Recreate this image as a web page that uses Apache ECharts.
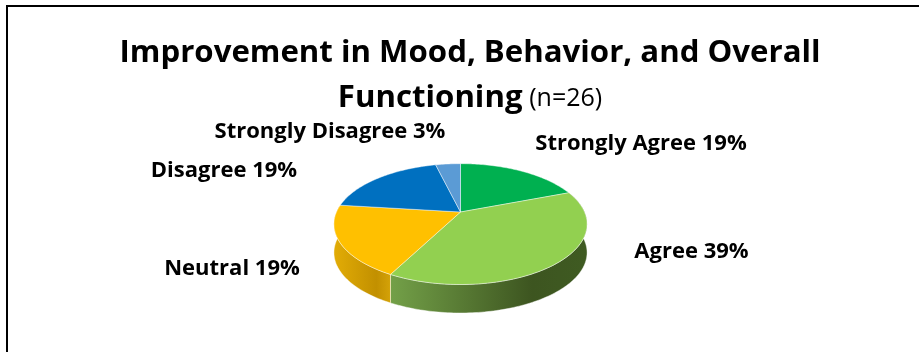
<!DOCTYPE html>
<html><head><meta charset="utf-8">
<style>html,body{margin:0;padding:0;background:#fff}#c{width:919px;height:352px}</style>
<script src="https://cdn.jsdelivr.net/npm/echarts@6/dist/echarts.min.js"></script>
</head><body><div id="c"></div>
<script>
// Data
const categories = ['Strongly Agree', 'Agree', 'Neutral', 'Disagree', 'Strongly Disagree'];
const respondents = [5, 10, 5, 5, 1];
const percentLabels = ['19%', '39%', '19%', '19%', '3%'];
const sliceColors = ['#00b050', '#92d050', '#ffc000', '#0070c0', '#5b9bd5'];

// Layout
const cx = 460.5, cy = 212, Rx = 124, Ry = 58, persp = 0.2, depth = 28.5;
const labelAnchors = [[641, 144], [691.5, 252], [232, 269], [224, 171], [330, 132]];
const total = respondents.reduce((a, b) => a + b, 0);
const project = t => {
  const u = Math.sin(t), v = -Math.cos(t), w = 1 / (1 - persp * v);
  return [cx + Rx * u * w, cy + Ry * v * w];
};
const arcPoints = (a0, a1) => {
  const n = Math.max(2, Math.ceil((a1 - a0) / 0.02)), pts = [];
  for (let i = 0; i <= n; i++) pts.push(project(a0 + (a1 - a0) * i / n));
  return pts;
};
const angles = idx => {
  let s = 0;
  for (let i = 0; i < idx; i++) s += respondents[i];
  return [s / total * 2 * Math.PI, (s + respondents[idx]) / total * 2 * Math.PI];
};
const sideFill = {
  1: ['#73a048', '#3d5520', 0.72],
  2: ['#e2ac06', '#c29000', 1]
};
function renderSide(params, api) {
  const i = params.dataIndex;
  const style = sideFill[i];
  if (!style) return null;
  const [a0, a1] = angles(i);
  const aa = Math.max(a0, Math.PI * 0.38), bb = Math.min(a1, Math.PI * 1.62);
  const top = arcPoints(aa, bb);
  const bottom = top.map(p => [p[0], p[1] + depth]).reverse();
  const pts = top.concat(bottom);
  const xs = pts.map(p => p[0]);
  const x0 = Math.min(...xs), x1 = Math.max(...xs);
  const stops = i === 1
    ? [{offset: 0, color: style[0]}, {offset: style[2], color: style[1]}, {offset: 1, color: '#3f5b22'}]
    : [{offset: 0, color: style[0]}, {offset: 0.75, color: style[1]}, {offset: 1, color: '#d4a208'}];
  return {
    type: 'polygon', shape: {points: pts},
    style: {
      fill: new echarts.graphic.LinearGradient(x0, 0, x1, 0, stops, true),
      stroke: 'rgba(255,255,255,0.55)', lineWidth: 0.8
    }
  };
}
function renderTop(params, api) {
  const i = params.dataIndex;
  const [a0, a1] = angles(i);
  return {
    type: 'polygon',
    shape: {points: [[cx, cy]].concat(arcPoints(a0, a1))},
    style: {fill: sliceColors[i], stroke: 'rgba(255,255,255,0.55)', lineWidth: 0.8}
  };
}
function renderLabel(params, api) {
  const i = params.dataIndex;
  return {
    type: 'text', x: labelAnchors[i][0], y: labelAnchors[i][1],
    style: {
      text: categories[i] + ' ' + percentLabels[i],
      font: 'bold 22px "Open Sans"', fill: '#000', align: 'center', verticalAlign: 'middle'
    }
  };
}
const rows = categories.map((c, i) => ({name: c, value: [respondents[i]]}));
const chart = echarts.init(document.getElementById('c'), null, {renderer: 'canvas'});
chart.setOption({
  animation: false,
  backgroundColor: '#fff',
  title: {
    text: '{b|Improvement in Mood, Behavior, and Overall}\n{b|Functioning} {s| }{r|(n=26)}',
    left: 465, textAlign: 'center', top: 26,
    textStyle: {
      rich: {
        b: {fontFamily: 'Open Sans', fontWeight: 'bold', fontSize: 31.2, color: '#000', lineHeight: 45},
        s: {fontSize: 6, lineHeight: 45},
        r: {fontFamily: 'Open Sans', fontWeight: 'normal', fontSize: 25, color: '#000', lineHeight: 45}
      }
    }
  },
  graphic: [
    {type: 'rect', shape: {x: 6, y: 5, width: 913, height: 2}, style: {fill: '#000'}, silent: true},
    {type: 'rect', shape: {x: 6, y: 5, width: 2, height: 347}, style: {fill: '#000'}, silent: true}
  ],
  series: [
    {type: 'custom', coordinateSystem: 'none', renderItem: renderSide, data: rows, z: 1, silent: true},
    {type: 'custom', coordinateSystem: 'none', renderItem: renderTop, data: rows, z: 2, silent: true},
    {type: 'custom', coordinateSystem: 'none', renderItem: renderLabel, data: rows, z: 3, silent: true}
  ]
});
</script></body></html>
